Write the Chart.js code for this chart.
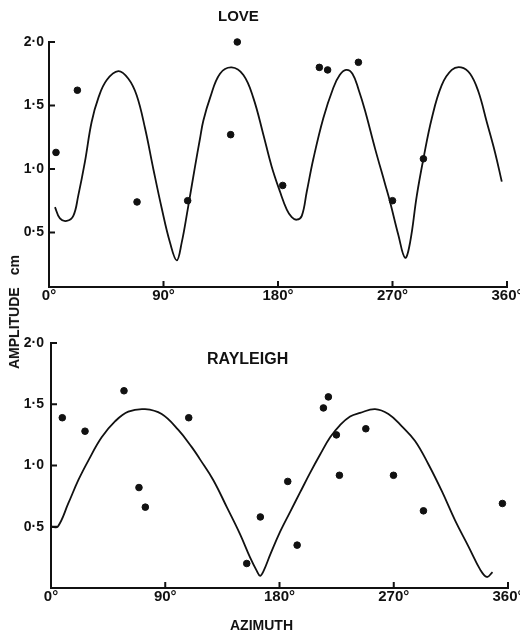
<!DOCTYPE html>
<html>
<head>
<meta charset="utf-8">
<script src="https://cdn.jsdelivr.net/npm/chart.js@4.4.1/dist/chart.umd.min.js"></script>
<style>
  body { margin: 0; background: #fff; }
  #wrap { position: relative; width: 520px; height: 636px; overflow: hidden;
          font-family: "Liberation Sans", Arial, sans-serif; font-weight: bold; color: #111; }
  #wrap canvas { position: absolute; left: 0; }
  .lbl { position: absolute; white-space: nowrap; line-height: 1; }
</style>
</head>
<body>
<div id="wrap">
  <canvas id="loveChart" width="520" height="310" style="top:0"></canvas>
  <canvas id="rayleighChart" width="520" height="326" style="top:310px"></canvas>
  <div class="lbl" style="left:218px; top:8px; font-size:15px">LOVE</div>
  <div class="lbl" style="left:207px; top:351px; font-size:16px">RAYLEIGH</div>
  <div class="lbl" style="left:230px; top:618px; font-size:14px">AZIMUTH</div>
  <div class="lbl" style="left:14px; top:312px; font-size:14px; transform:translate(-50%,-50%) rotate(-90deg)">AMPLITUDE<span style="margin-left:12px">cm</span></div>
</div>
<script>
// axis ticks
var xTicks = [0, 90, 180, 270, 360];
var xTickLabels = ['0°', '90°', '180°', '270°', '360°'];
var yTicks = [0.5, 1.0, 1.5, 2.0];
var yTickLabels = ['0·5', '1·0', '1·5', '2·0'];

// LOVE - observed amplitudes
var loveAzimuth = [5.5, 22.3, 69.2, 109, 142.8, 148, 183.7, 212.5, 219, 243.2, 270, 294.3];
var loveAmplitude = [1.13, 1.62, 0.74, 0.75, 1.27, 2.00, 0.87, 1.80, 1.78, 1.84, 0.75, 1.08];

// LOVE - fitted curve
var loveCurveAzimuth = [4.7, 8.6, 13.9, 19.1, 23, 28.3, 33.5, 38.8, 45.4, 54.5, 62.4, 68.9, 75.5, 82, 88.6,
  95.1, 100.4, 104.3, 109, 114.8, 118.7, 121.3, 126.6, 134.4, 143.6, 152.8, 160.6, 168.5, 175, 181.6,
  186.9, 190.8, 194.7, 198.7, 202.6, 207.8, 215.6, 223.5, 228.5, 233.5, 238.5, 243.5, 248.4, 256.3, 264.2, 268.1,
  274.6, 279.9, 283.8, 289.1, 294.3, 300.9, 308.7, 316.6, 323.9, 331, 337.5, 344.1, 350.6, 355.9];
var loveCurveAmplitude = [0.70, 0.61, 0.59, 0.63, 0.79, 1.06, 1.37, 1.56, 1.70, 1.77, 1.71, 1.58, 1.32, 1.00, 0.69,
  0.42, 0.28, 0.42, 0.68, 1.02, 1.24, 1.38, 1.56, 1.75, 1.80, 1.74, 1.56, 1.27, 1.02, 0.82,
  0.68, 0.62, 0.60, 0.63, 0.82, 1.08, 1.40, 1.64, 1.74, 1.78, 1.75, 1.62, 1.46, 1.16, 0.88, 0.74,
  0.48, 0.30, 0.42, 0.79, 1.08, 1.40, 1.66, 1.78, 1.80, 1.75, 1.61, 1.37, 1.13, 0.90];

// RAYLEIGH - observed amplitudes
var rayleighAzimuth = [8.9, 26.8, 57.5, 69.3, 74.3, 108.5, 154.2, 164.9, 186.5, 193.9, 214.6, 218.5,
  224.8, 227.2, 248, 269.8, 293.4, 355.6];
var rayleighAmplitude = [1.39, 1.28, 1.61, 0.82, 0.66, 1.39, 0.20, 0.58, 0.87, 0.35, 1.47, 1.56,
  1.25, 0.92, 1.30, 0.92, 0.63, 0.69];

// RAYLEIGH - fitted curve
var rayleighCurveAzimuth = [0.5, 5.3, 13.6, 21.5, 29.4, 39.9, 50.4, 60.9, 74.1, 87.2, 100.3, 110.9, 117.4,
  127.9, 138.5, 148.9, 156.8, 162.1, 164.7, 167.5, 172.6, 180.5, 188.3, 196.2, 204.1, 212, 219.9, 227.7,
  235.6, 243.5, 255.3, 265.8, 276.4, 286.8, 297.3, 307.9, 318.4, 328.8, 338.1, 343.3, 347.8];
var rayleighCurveAmplitude = [0.50, 0.50, 0.69, 0.88, 1.04, 1.23, 1.36, 1.44, 1.46, 1.42, 1.29, 1.15, 1.05,
  0.88, 0.66, 0.44, 0.25, 0.14, 0.10, 0.14, 0.27, 0.46, 0.62, 0.78, 0.94, 1.09, 1.23, 1.33,
  1.40, 1.43, 1.46, 1.42, 1.32, 1.20, 1.01, 0.79, 0.55, 0.34, 0.15, 0.09, 0.13];

var INK = '#111';
Chart.defaults.color = INK;
Chart.defaults.font.family = '"Liberation Sans", Arial, sans-serif';
Chart.defaults.font.weight = 'bold';

function toPoints(xs, ys) {
  return xs.map(function (x, i) { return {x: x, y: ys[i]}; });
}

// small tick marks drawn inside the plot, like the original figure
var inwardTicks = {
  id: 'inwardTicks',
  afterDatasetsDraw: function (chart) {
    var ctx = chart.ctx, area = chart.chartArea;
    var x = chart.scales.x, y = chart.scales.y;
    ctx.save();
    ctx.strokeStyle = INK;
    ctx.lineWidth = 2;
    ctx.beginPath();
    y.ticks.forEach(function (t) {
      var py = y.getPixelForValue(t.value);
      ctx.moveTo(area.left, py);
      ctx.lineTo(area.left + 6, py);
    });
    x.ticks.forEach(function (t) {
      if (t.value === 0) return;
      var px = x.getPixelForValue(t.value);
      ctx.moveTo(px, area.bottom);
      ctx.lineTo(px, area.bottom - 6);
    });
    ctx.stroke();
    ctx.restore();
  }
};

function makeChart(id, obsX, obsY, curveX, curveY, yMin, box) {
  return new Chart(document.getElementById(id), {
    type: 'scatter',
    data: {
      datasets: [{
        type: 'line',
        data: toPoints(curveX, curveY),
        borderColor: INK,
        borderWidth: 1.8,
        pointRadius: 0,
        tension: 0.4,
        fill: false
      }, {
        data: toPoints(obsX, obsY),
        backgroundColor: INK,
        borderColor: INK,
        pointRadius: 3.3,
        clip: false
      }]
    },
    options: {
      responsive: false,
      animation: false,
      layout: { padding: { top: box.top, right: box.right, bottom: 0, left: 0 } },
      plugins: { legend: { display: false }, tooltip: { enabled: false } },
      scales: {
        x: {
          type: 'linear', min: 0, max: 360,
          grid: { display: false, drawTicks: false },
          border: { display: true, color: INK, width: 2 },
          afterBuildTicks: function (s) { s.ticks = xTicks.map(function (v) { return {value: v}; }); },
          afterFit: function (s) { s.height = box.xHeight; s.paddingLeft = 0; s.paddingRight = 0; },
          ticks: {
            padding: 0, maxRotation: 0, autoSkip: false,
            font: { size: 15, weight: 'bold' },
            callback: function (v, i) { return xTickLabels[i]; }
          }
        },
        y: {
          type: 'linear', min: yMin, max: 2.0,
          grid: { display: false, drawTicks: false },
          border: { display: true, color: INK, width: 2 },
          afterBuildTicks: function (s) { s.ticks = yTicks.map(function (v) { return {value: v}; }); },
          afterFit: function (s) { s.width = box.left; },
          ticks: {
            padding: box.yPad, autoSkip: false,
            font: { size: 14, weight: 'bold' },
            callback: function (v, i) { return yTickLabels[i]; }
          }
        }
      }
    },
    plugins: [inwardTicks]
  });
}

makeChart('loveChart', loveAzimuth, loveAmplitude, loveCurveAzimuth, loveCurveAmplitude, 0.07,
  { top: 42, right: 13, left: 49, xHeight: 23, yPad: 5 });
makeChart('rayleighChart', rayleighAzimuth, rayleighAmplitude, rayleighCurveAzimuth, rayleighCurveAmplitude, 0,
  { top: 33, right: 12, left: 51, xHeight: 48, yPad: 7 });
</script>
</body>
</html>
